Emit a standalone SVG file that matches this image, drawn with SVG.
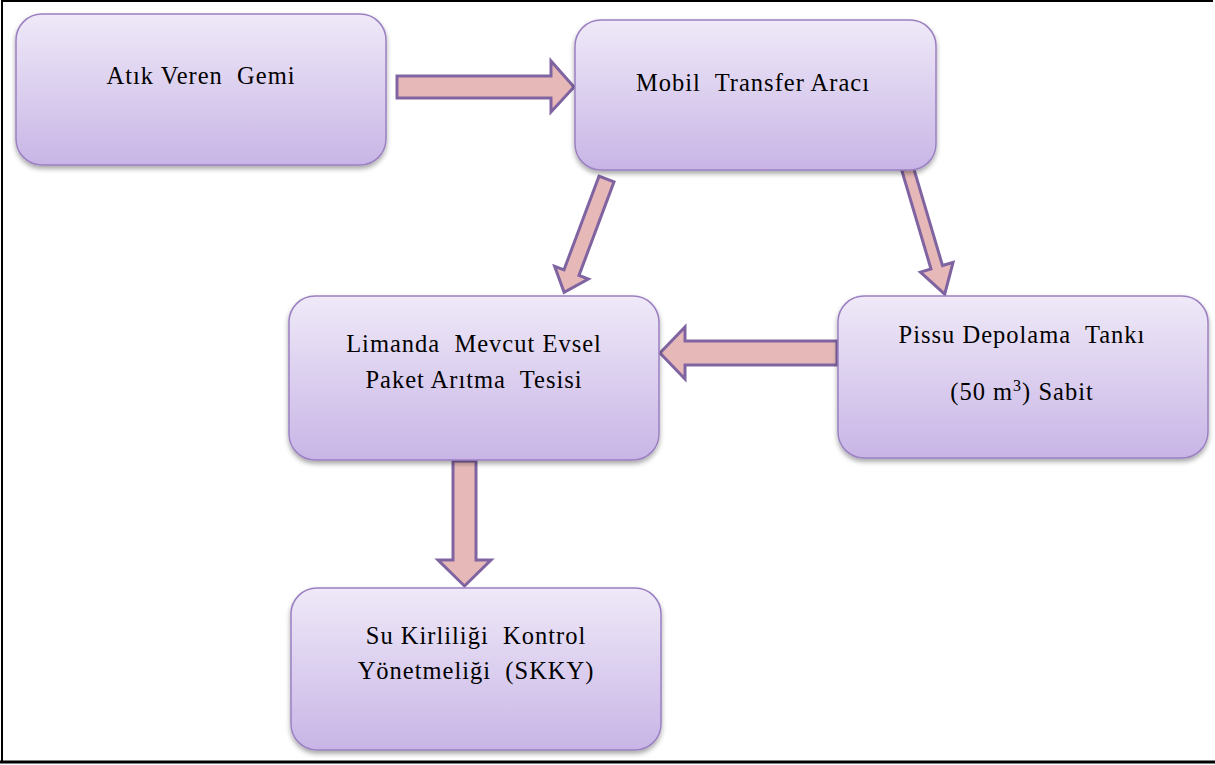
<svg xmlns="http://www.w3.org/2000/svg" width="1215" height="765" viewBox="0 0 1215 765">
<defs>
<linearGradient id="boxg" x1="0" y1="0" x2="0" y2="1">
<stop offset="0" stop-color="#efe9f8"/>
<stop offset="1" stop-color="#c8b5e6"/>
</linearGradient>
<filter id="sh" x="-10%" y="-10%" width="120%" height="130%">
<feDropShadow dx="0" dy="3" stdDeviation="2.5" flood-color="#000" flood-opacity="0.35"/>
</filter>
<style>
.box{fill:url(#boxg);stroke:#9b80c1;stroke-width:1.5;filter:url(#sh)}
.arr{fill:#e6b9b8;stroke:#8064a2;stroke-width:3;stroke-linejoin:miter}
.frame{stroke:#000;fill:none}
text{white-space:pre}
</style>
</defs>
<rect x="0" y="0" width="1215" height="765" fill="#fff"/>
<g id="frame">
<line class="frame" x1="2" y1="1" x2="1213" y2="1" stroke-width="2"/>
<line class="frame" x1="2" y1="0" x2="2" y2="763" stroke-width="2"/>
<line class="frame" x1="0" y1="762" x2="1215" y2="762" stroke-width="3"/>
</g>
<g id="connectors">
<polygon class="arr" points="397,76 551,76 551,61 574,87 551,112 551,98 397,98"/>
<polygon class="arr" transform="translate(606.5,179) rotate(20.5)" points="-8,0 8,0 8,100 18,100 0,121 -18,100 -8,100"/>
<polygon class="arr" transform="translate(907.5,168.5) rotate(-16.5)" points="-6,0 6,0 6,103 17,103 0,131 -17,103 -6,103"/>
<polygon class="arr" points="837,341 685,341 685,327 660,353 685,379 685,365 837,365"/>
<polygon class="arr" points="453,461 476,461 476,560 491,560 464.5,586 438,560 453,560"/>
</g>
<g font-family="'Liberation Serif', 'Times New Roman', serif" font-size="24.5" fill="#000" text-anchor="middle" letter-spacing="1">
<g id="n1">
<rect class="box" x="16" y="14" width="370" height="151" rx="26"/>
<text x="201" y="84">Atık Veren  Gemi</text>
</g>
<g id="n2">
<rect class="box" x="575" y="20" width="361" height="150" rx="26"/>
<text x="753" y="91">Mobil  Transfer Aracı</text>
</g>
<g id="n3">
<rect class="box" x="289" y="296" width="370" height="164" rx="26"/>
<text x="474" y="352">Limanda  Mevcut Evsel</text>
<text x="474" y="388">Paket Arıtma  Tesisi</text>
</g>
<g id="n4">
<rect class="box" x="838" y="296" width="370" height="162" rx="26"/>
<text x="1022" y="343">Pissu Depolama  Tankı</text>
<text x="1022" y="400">(50 m<tspan font-size="16" dy="-9">3</tspan><tspan dy="9">) Sabit</tspan></text>
</g>
<g id="n5">
<rect class="box" x="291" y="588" width="370" height="162" rx="26"/>
<text x="476" y="644">Su Kirliliği  Kontrol</text>
<text x="476" y="679">Yönetmeliği  (SKKY)</text>
</g>
</g>
</svg>
